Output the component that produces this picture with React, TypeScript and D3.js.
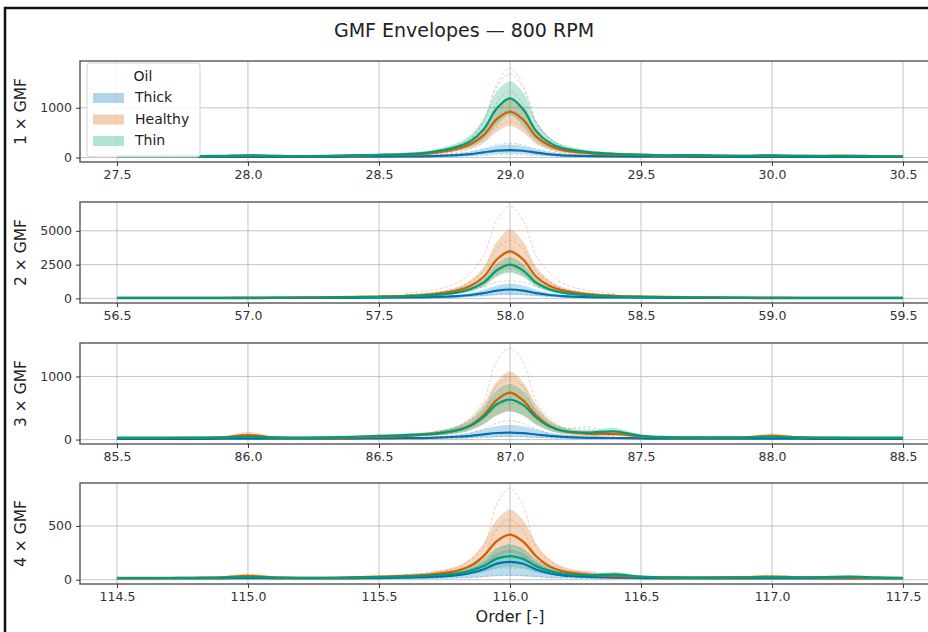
import React, { useEffect, useRef } from 'react';
import * as d3 from 'd3';

// offsets from the GMF order (x = centre + offset)
const OFFSETS = [-1.5, -1.4, -1.3, -1.2, -1.1, -1.0, -0.9, -0.8, -0.7, -0.6, -0.5, -0.4, -0.3, -0.2, -0.15, -0.1, -0.05, 0,
  0.05, 0.1, 0.15, 0.2, 0.3, 0.4, 0.5, 0.6, 0.7, 0.8, 0.9, 1.0, 1.1, 1.2, 1.3, 1.4, 1.5];
const RUN_OFFSETS = [-0.4, -0.3, -0.2, -0.15, -0.1, -0.05, 0, 0.05, 0.1, 0.15, 0.2, 0.3, 0.4];

const CENTERS = [29, 58, 87, 116];
const PANEL_LABELS = ['1 × GMF', '2 × GMF', '3 × GMF', '4 × GMF'];
const Y_TICKS = [[0, 1000], [0, 2500, 5000], [0, 1000], [0, 500]];
const Y_DOMAINS = [[-90, 1940], [-340, 7130], [-70, 1530], [-40, 900]];
const OILS = ['Thick', 'Healthy', 'Thin'];

// ---- 1 x GMF ----
const thick1Mean = [12, 12, 12, 13, 13, 15, 13, 13, 14, 16, 18, 22, 30, 50, 70, 105, 138, 150, 136, 100, 65, 45, 30, 22, 18, 16, 15, 14, 14, 15, 14, 13, 13, 12, 12];
const thick1Hi = [18, 18, 18, 19, 19, 22, 19, 19, 20, 23, 26, 32, 45, 80, 115, 175, 235, 260, 232, 165, 110, 75, 45, 32, 26, 23, 22, 20, 20, 22, 20, 19, 19, 18, 18];
const thick1Lo = [6, 6, 6, 7, 7, 8, 7, 7, 8, 9, 10, 12, 15, 25, 35, 52, 70, 80, 70, 50, 32, 22, 15, 12, 10, 9, 8, 8, 8, 8, 8, 7, 7, 6, 6];
const healthy1Mean = [22, 22, 25, 28, 30, 40, 32, 28, 30, 40, 50, 60, 90, 180, 270, 450, 770, 920, 760, 420, 240, 150, 90, 60, 48, 38, 40, 35, 35, 38, 32, 35, 40, 28, 22];
const healthy1Hi = [30, 30, 33, 36, 40, 55, 42, 36, 40, 55, 68, 80, 125, 250, 370, 610, 1020, 1200, 1000, 570, 330, 200, 120, 80, 64, 50, 52, 46, 45, 50, 42, 46, 52, 36, 30];
const healthy1Lo = [14, 14, 17, 20, 22, 28, 22, 20, 22, 28, 34, 42, 60, 120, 180, 305, 520, 640, 510, 275, 160, 100, 60, 42, 34, 28, 28, 24, 24, 26, 22, 24, 28, 20, 14];
const thin1Mean = [25, 25, 28, 30, 35, 45, 35, 30, 35, 45, 55, 70, 110, 220, 330, 570, 990, 1190, 970, 530, 300, 190, 110, 75, 60, 45, 50, 40, 35, 45, 35, 30, 28, 25, 25];
const thin1Hi = [35, 35, 38, 40, 45, 60, 45, 40, 45, 60, 75, 95, 150, 300, 460, 790, 1330, 1530, 1310, 730, 420, 260, 150, 100, 80, 60, 65, 55, 45, 60, 45, 40, 38, 35, 35];
const thin1Lo = [15, 15, 18, 20, 25, 30, 25, 20, 25, 30, 35, 45, 70, 140, 210, 355, 650, 850, 630, 325, 180, 120, 70, 50, 40, 30, 35, 25, 25, 30, 25, 20, 18, 15, 15];
const thick1Runs = [[30, 45, 80, 120, 175, 255, 290, 250, 170, 115, 78, 44, 30], [15, 18, 24, 32, 42, 55, 60, 55, 42, 32, 24, 18, 15]];
const healthy1Runs = [[50, 100, 220, 380, 720, 1480, 1800, 1460, 700, 370, 210, 100, 50], [40, 80, 160, 280, 510, 1100, 1320, 1080, 500, 270, 150, 75, 40], [25, 45, 100, 170, 305, 610, 720, 600, 295, 160, 95, 45, 25]];
const thin1Runs = [[50, 110, 240, 400, 740, 1420, 1680, 1400, 720, 390, 230, 105, 50], [35, 70, 150, 250, 450, 820, 950, 800, 430, 240, 140, 65, 35]];

// ---- 2 x GMF ----
const thick2Mean = [20, 20, 22, 22, 24, 26, 28, 32, 38, 46, 55, 70, 100, 170, 250, 390, 580, 660, 580, 390, 250, 170, 100, 70, 55, 46, 38, 32, 28, 26, 24, 22, 22, 20, 20];
const thick2Hi = [30, 30, 32, 33, 36, 39, 42, 48, 57, 69, 82, 105, 150, 270, 400, 640, 960, 1100, 960, 640, 400, 270, 150, 105, 82, 69, 57, 48, 42, 39, 36, 33, 32, 30, 30];
const thick2Lo = [10, 10, 11, 11, 12, 13, 14, 16, 19, 23, 28, 35, 50, 75, 105, 155, 225, 250, 225, 155, 105, 75, 50, 35, 28, 23, 19, 16, 14, 13, 12, 11, 11, 10, 10];
const healthy2Mean = [40, 40, 45, 45, 50, 55, 60, 70, 85, 110, 140, 190, 300, 590, 940, 1600, 2880, 3480, 2880, 1600, 940, 590, 300, 190, 140, 110, 85, 70, 60, 55, 50, 45, 45, 40, 40];
const healthy2Hi = [55, 55, 60, 62, 68, 75, 82, 95, 115, 150, 195, 270, 430, 850, 1360, 2320, 4200, 5100, 4200, 2320, 1360, 850, 430, 270, 195, 150, 115, 95, 82, 75, 68, 62, 60, 55, 55];
const healthy2Lo = [25, 25, 28, 28, 32, 35, 38, 45, 55, 70, 90, 120, 180, 350, 560, 950, 1730, 2100, 1730, 950, 560, 350, 180, 120, 90, 70, 55, 45, 38, 35, 32, 28, 28, 25, 25];
const thin2Mean = [35, 35, 38, 40, 42, 48, 52, 60, 72, 95, 120, 160, 240, 450, 700, 1180, 2080, 2500, 2060, 1160, 680, 430, 230, 150, 110, 90, 70, 60, 52, 48, 42, 40, 38, 35, 35];
const thin2Hi = [45, 45, 48, 50, 54, 62, 67, 78, 92, 122, 155, 205, 300, 560, 870, 1450, 2540, 3050, 2520, 1430, 850, 540, 290, 190, 140, 115, 90, 78, 67, 62, 54, 50, 48, 45, 45];
const thin2Lo = [25, 25, 28, 30, 30, 34, 37, 42, 52, 68, 85, 115, 175, 330, 520, 880, 1580, 1900, 1570, 870, 510, 320, 170, 110, 80, 65, 50, 42, 37, 34, 30, 30, 28, 25, 25];
const thick2Runs = [[150, 220, 380, 560, 890, 1200, 1300, 1190, 880, 550, 370, 210, 140], [60, 80, 110, 160, 235, 315, 340, 315, 235, 160, 110, 80, 60]];
const healthy2Runs = [[380, 600, 1150, 1900, 3200, 5800, 6800, 5750, 3150, 1880, 1120, 580, 370], [260, 400, 760, 1250, 2100, 3700, 4300, 3650, 2050, 1230, 740, 390, 250]];
const thin2Runs = [[250, 380, 700, 1150, 1950, 3050, 3500, 3000, 1900, 1120, 680, 370, 240], [150, 220, 400, 650, 1100, 1740, 2000, 1720, 1080, 640, 390, 210, 140]];

// ---- 3 x GMF ----
const thick3Mean = [12, 12, 12, 12, 13, 15, 13, 13, 14, 16, 18, 22, 28, 45, 60, 82, 104, 110, 103, 80, 58, 42, 28, 25, 18, 15, 14, 13, 13, 15, 13, 12, 12, 12, 12];
const thick3Hi = [18, 18, 18, 18, 20, 23, 20, 20, 21, 24, 27, 33, 45, 80, 110, 165, 215, 230, 212, 160, 105, 75, 45, 38, 27, 23, 21, 20, 20, 23, 20, 18, 18, 18, 18];
const thick3Lo = [6, 6, 6, 6, 7, 8, 7, 7, 7, 8, 9, 11, 13, 18, 23, 31, 38, 40, 38, 30, 22, 17, 13, 12, 9, 8, 7, 7, 7, 8, 7, 6, 6, 6, 6];
const healthy3Mean = [25, 25, 25, 28, 35, 70, 35, 28, 28, 35, 45, 60, 85, 150, 230, 390, 630, 745, 620, 380, 220, 140, 90, 90, 50, 35, 30, 30, 35, 60, 35, 28, 25, 25, 25];
const healthy3Hi = [35, 35, 35, 40, 50, 120, 50, 40, 40, 50, 65, 90, 125, 220, 340, 575, 925, 1080, 910, 555, 320, 200, 130, 130, 70, 50, 42, 42, 50, 100, 50, 40, 35, 35, 35];
const healthy3Lo = [15, 15, 15, 18, 22, 35, 22, 18, 18, 22, 28, 38, 55, 95, 145, 245, 385, 450, 380, 235, 140, 90, 55, 55, 30, 22, 18, 18, 22, 35, 22, 18, 15, 15, 15];
const thin3Mean = [30, 30, 30, 32, 35, 45, 35, 32, 35, 45, 60, 70, 90, 150, 220, 360, 560, 634, 550, 350, 210, 140, 110, 130, 60, 40, 35, 35, 35, 45, 35, 32, 30, 30, 30];
const thin3Hi = [40, 40, 40, 42, 46, 60, 46, 42, 46, 60, 80, 95, 125, 210, 310, 505, 780, 880, 765, 485, 290, 190, 150, 185, 80, 52, 46, 46, 46, 60, 46, 42, 40, 40, 40];
const thin3Lo = [20, 20, 20, 22, 24, 30, 24, 22, 24, 30, 40, 48, 60, 100, 150, 245, 385, 450, 380, 240, 145, 95, 75, 95, 40, 28, 24, 24, 24, 30, 24, 22, 20, 20, 20];
const thick3Runs = [[30, 40, 70, 110, 165, 260, 300, 255, 160, 105, 68, 50, 28], [12, 14, 20, 28, 38, 52, 56, 51, 37, 27, 19, 15, 11]];
const healthy3Runs = [[80, 110, 210, 360, 620, 1250, 1450, 1230, 600, 350, 200, 160, 75], [60, 85, 150, 250, 430, 860, 1000, 840, 420, 240, 145, 120, 55]];
const thin3Runs = [[90, 110, 190, 320, 530, 840, 950, 830, 510, 310, 185, 200, 85], [55, 70, 120, 200, 335, 520, 580, 515, 325, 195, 115, 120, 50]];

// ---- 4 x GMF ----
const thick4Mean = [12, 12, 12, 12, 13, 14, 13, 12, 12, 13, 15, 18, 25, 42, 62, 98, 150, 165, 148, 95, 60, 40, 25, 20, 15, 13, 13, 12, 12, 13, 12, 12, 12, 12, 12];
const thick4Hi = [18, 18, 18, 18, 19, 21, 19, 18, 18, 19, 22, 27, 38, 68, 100, 160, 250, 280, 248, 157, 97, 65, 38, 30, 22, 19, 19, 18, 18, 19, 18, 18, 18, 18, 18];
const thick4Lo = [5, 5, 5, 5, 6, 7, 6, 5, 5, 6, 7, 8, 10, 14, 18, 25, 32, 35, 32, 24, 17, 13, 10, 8, 7, 6, 6, 5, 5, 6, 5, 5, 5, 5, 5];
const healthy4Mean = [15, 15, 16, 18, 22, 35, 22, 18, 18, 22, 28, 35, 50, 85, 130, 222, 360, 420, 355, 218, 125, 80, 48, 35, 25, 20, 20, 22, 24, 30, 22, 20, 18, 16, 15];
const healthy4Hi = [22, 22, 24, 26, 32, 55, 32, 26, 26, 32, 42, 52, 75, 130, 200, 340, 560, 650, 555, 335, 195, 125, 72, 52, 38, 30, 30, 33, 36, 45, 33, 30, 27, 24, 22];
const healthy4Lo = [8, 8, 9, 10, 12, 18, 12, 10, 10, 12, 15, 20, 28, 50, 78, 132, 214, 250, 212, 129, 75, 48, 28, 20, 14, 11, 11, 12, 13, 16, 12, 11, 10, 9, 8];
const thin4Mean = [18, 18, 18, 18, 20, 25, 20, 18, 18, 20, 24, 30, 40, 60, 85, 128, 196, 220, 194, 125, 82, 58, 40, 50, 28, 22, 20, 20, 20, 22, 22, 25, 28, 22, 18];
const thin4Hi = [25, 25, 25, 25, 28, 35, 28, 25, 25, 28, 34, 42, 56, 88, 125, 190, 292, 330, 288, 185, 120, 85, 56, 72, 40, 31, 28, 28, 28, 31, 31, 35, 40, 31, 25];
const thin4Lo = [11, 11, 11, 11, 12, 15, 12, 11, 11, 12, 14, 18, 24, 34, 48, 72, 107, 120, 106, 70, 46, 33, 24, 30, 16, 13, 12, 12, 12, 13, 13, 15, 16, 13, 11];
const thick4Runs = [[30, 40, 55, 100, 155, 270, 320, 265, 150, 95, 55, 40, 28], [10, 12, 16, 22, 31, 40, 42, 39, 30, 21, 15, 11, 9]];
const healthy4Runs = [[45, 70, 110, 190, 310, 700, 850, 690, 300, 180, 105, 68, 45], [35, 50, 80, 140, 225, 470, 560, 460, 220, 135, 80, 50, 35]];
const thin4Runs = [[40, 55, 80, 130, 195, 285, 300, 280, 190, 125, 80, 75, 38], [20, 25, 35, 55, 77, 105, 110, 104, 74, 52, 35, 32, 18]];

const PANELS = [
  [{ mean: thick1Mean, hi: thick1Hi, lo: thick1Lo, runs: thick1Runs }, { mean: healthy1Mean, hi: healthy1Hi, lo: healthy1Lo, runs: healthy1Runs }, { mean: thin1Mean, hi: thin1Hi, lo: thin1Lo, runs: thin1Runs }],
  [{ mean: thick2Mean, hi: thick2Hi, lo: thick2Lo, runs: thick2Runs }, { mean: healthy2Mean, hi: healthy2Hi, lo: healthy2Lo, runs: healthy2Runs }, { mean: thin2Mean, hi: thin2Hi, lo: thin2Lo, runs: thin2Runs }],
  [{ mean: thick3Mean, hi: thick3Hi, lo: thick3Lo, runs: thick3Runs }, { mean: healthy3Mean, hi: healthy3Hi, lo: healthy3Lo, runs: healthy3Runs }, { mean: thin3Mean, hi: thin3Hi, lo: thin3Lo, runs: thin3Runs }],
  [{ mean: thick4Mean, hi: thick4Hi, lo: thick4Lo, runs: thick4Runs }, { mean: healthy4Mean, hi: healthy4Hi, lo: healthy4Lo, runs: healthy4Runs }, { mean: thin4Mean, hi: thin4Hi, lo: thin4Lo, runs: thin4Runs }],
];

const COLORS = ['#0072B2', '#D55E00', '#009E73'];
const RUN_COLORS = ['#6fa8d6', '#f08a6a', '#5cc4a0'];
const FONT = 'DejaVu Sans, sans-serif';

const WIDTH = 928;
const HEIGHT = 632;

const App = () => {
  const svgRef = useRef<SVGSVGElement>(null);

  useEffect(() => {
    const svg = d3.select(svgRef.current);
    svg.selectAll('*').remove();

    const axLeft = 80;
    const axRight = 940;
    const axTops = [61, 202, 343, 483];
    const axHeight = 101;

    svg.append('rect').attr('width', WIDTH).attr('height', HEIGHT).attr('fill', 'white');

    // frame of the figure
    svg.append('path')
      .attr('d', `M5,${HEIGHT} V8 H${WIDTH}`)
      .attr('fill', 'none')
      .attr('stroke', '#111')
      .attr('stroke-width', 2.5);

    svg.append('text')
      .attr('x', 464)
      .attr('y', 31)
      .attr('text-anchor', 'middle')
      .attr('dominant-baseline', 'middle')
      .style('font-family', FONT)
      .style('font-size', '19px')
      .style('fill', '#222')
      .text('GMF Envelopes — 800 RPM');

    const defs = svg.append('defs');

    CENTERS.forEach((c, p) => {
      const top = axTops[p];
      const bottom = top + axHeight;
      const x = d3.scaleLinear().domain([c - 1.641, c + 1.641]).range([axLeft, axRight]);
      const y = d3.scaleLinear().domain(Y_DOMAINS[p]).range([bottom, top]);
      const xTicks = d3.range(-3, 4).map(k => c + k * 0.5);

      defs.append('clipPath').attr('id', `clip${p}`)
        .append('rect')
        .attr('x', axLeft).attr('y', top)
        .attr('width', axRight - axLeft).attr('height', axHeight);

      const g = svg.append('g');

      // grid
      g.selectAll('.vgrid').data(xTicks).enter().append('line')
        .attr('x1', d => x(d)).attr('x2', d => x(d))
        .attr('y1', top).attr('y2', bottom)
        .attr('stroke', '#bdbdbd').attr('stroke-width', 0.9);
      g.selectAll('.hgrid').data(Y_TICKS[p]).enter().append('line')
        .attr('x1', axLeft).attr('x2', axRight)
        .attr('y1', d => y(d)).attr('y2', d => y(d))
        .attr('stroke', '#bdbdbd').attr('stroke-width', 0.9);

      const plot = g.append('g').attr('clip-path', `url(#clip${p})`);

      const curve = d3.curveCatmullRom.alpha(0.5);
      const area = d3.area<number>()
        .x((_, i) => x(c + OFFSETS[i]))
        .curve(curve);
      const line = d3.line<number>()
        .x((_, i) => x(c + OFFSETS[i]))
        .y(d => y(d))
        .curve(curve);
      const runLine = d3.line<number>()
        .x((_, i) => x(c + RUN_OFFSETS[i]))
        .y(d => y(d))
        .curve(curve);

      PANELS[p].forEach((s, k) => {
        s.runs.forEach(r => {
          plot.append('path')
            .attr('d', runLine(r))
            .attr('fill', 'none')
            .attr('stroke', RUN_COLORS[k])
            .attr('stroke-width', 0.9)
            .attr('stroke-dasharray', '3,2')
            .attr('opacity', 0.5);
        });
        const band = area.y0((_, i) => y(s.lo[i])).y1((_, i) => y(s.hi[i]));
        plot.append('path')
          .attr('d', band(s.mean))
          .attr('fill', COLORS[k])
          .attr('fill-opacity', 0.25);
      });
      PANELS[p].forEach((s, k) => {
        plot.append('path')
          .attr('d', line(s.mean))
          .attr('fill', 'none')
          .attr('stroke', COLORS[k])
          .attr('stroke-width', 2.2);
      });

      // spines
      g.append('rect')
        .attr('x', axLeft).attr('y', top)
        .attr('width', axRight - axLeft).attr('height', axHeight)
        .attr('fill', 'none')
        .attr('stroke', '#555')
        .attr('stroke-width', 1.4);

      // x axis
      const xAxis = g.append('g')
        .attr('transform', `translate(0,${bottom})`)
        .call(d3.axisBottom(x).tickValues(xTicks).tickFormat(d3.format('.1f')).tickSize(4).tickPadding(4));
      xAxis.select('.domain').remove();
      xAxis.selectAll('line').attr('stroke', '#333');
      xAxis.selectAll('text')
        .style('font-family', FONT)
        .style('font-size', '12.5px')
        .style('fill', '#333');

      // y axis
      const yAxis = g.append('g')
        .attr('transform', `translate(${axLeft},0)`)
        .call(d3.axisLeft(y).tickValues(Y_TICKS[p]).tickFormat(d3.format('d')).tickSize(4).tickPadding(4));
      yAxis.select('.domain').remove();
      yAxis.selectAll('line').attr('stroke', '#333');
      yAxis.selectAll('text')
        .style('font-family', FONT)
        .style('font-size', '12.5px')
        .style('fill', '#333');

      g.append('text')
        .attr('transform', `translate(21,${(top + bottom) / 2}) rotate(-90)`)
        .attr('text-anchor', 'middle')
        .attr('dominant-baseline', 'middle')
        .style('font-family', FONT)
        .style('font-size', '15.5px')
        .style('fill', '#222')
        .text(PANEL_LABELS[p]);

      if (p === 0) {
        // legend
        const legend = g.append('g');
        legend.append('rect')
          .attr('x', 87).attr('y', 63)
          .attr('width', 113).attr('height', 94)
          .attr('rx', 3)
          .attr('fill', 'white').attr('fill-opacity', 0.85)
          .attr('stroke', '#d0d0d0');
        legend.append('text')
          .attr('x', 143).attr('y', 77)
          .attr('text-anchor', 'middle')
          .attr('dominant-baseline', 'middle')
          .style('font-family', FONT)
          .style('font-size', '14px')
          .style('fill', '#222')
          .text('Oil');
        OILS.forEach((name, k) => {
          const cy = 98 + k * 21.5;
          legend.append('rect')
            .attr('x', 93).attr('y', cy - 5)
            .attr('width', 31).attr('height', 10)
            .attr('fill', COLORS[k]).attr('fill-opacity', 0.3);
          legend.append('text')
            .attr('x', 135).attr('y', cy)
            .attr('dominant-baseline', 'middle')
            .style('font-family', FONT)
            .style('font-size', '14px')
            .style('fill', '#222')
            .text(name);
        });
      }
    });

    svg.append('text')
      .attr('x', (axLeft + axRight) / 2)
      .attr('y', 617)
      .attr('text-anchor', 'middle')
      .attr('dominant-baseline', 'middle')
      .style('font-family', FONT)
      .style('font-size', '16px')
      .style('fill', '#222')
      .text('Order [-]');
  }, []);

  return (
    <svg
      ref={svgRef}
      width={WIDTH}
      height={HEIGHT}
      style={{ position: 'absolute', left: 0, top: 0 }}
    />
  );
};

export default App;
